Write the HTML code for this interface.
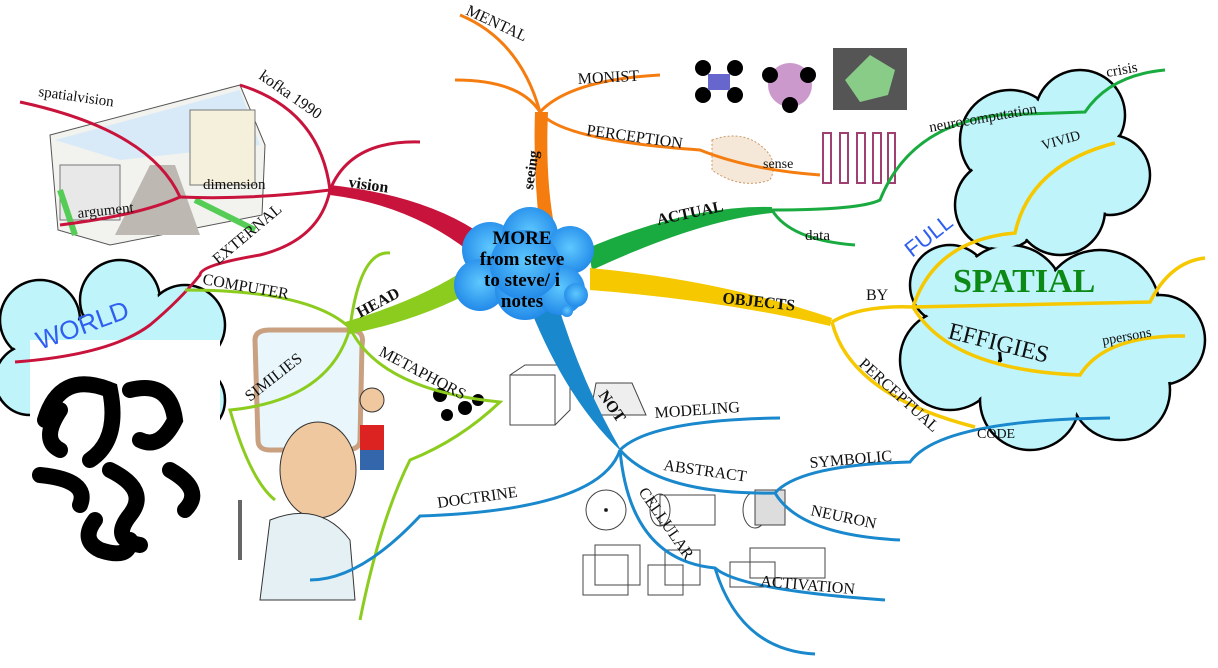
<!DOCTYPE html>
<html><head><meta charset="utf-8"><style>
html,body{margin:0;padding:0;background:#fff;}
svg{display:block;}
</style></head><body>
<svg width="1218" height="668" viewBox="0 0 1218 668" xmlns="http://www.w3.org/2000/svg" font-family="Liberation Serif, serif">
<defs>
<radialGradient id="cg" cx="50%" cy="45%" r="60%"><stop offset="0" stop-color="#5ec8ff"/><stop offset="1" stop-color="#1d84e6"/></radialGradient>
</defs>
<!-- right clouds -->
<g stroke="#000" stroke-width="2.5" fill="#bff4fb">
<circle cx="1010" cy="140" r="50"/><circle cx="1080" cy="115" r="45"/><circle cx="1110" cy="175" r="40"/><circle cx="1000" cy="205" r="45"/><circle cx="1060" cy="210" r="45"/>
<circle cx="950" cy="285" r="40"/><circle cx="1010" cy="300" r="55"/><circle cx="1100" cy="310" r="60"/><circle cx="1160" cy="340" r="45"/><circle cx="950" cy="360" r="50"/><circle cx="1030" cy="400" r="50"/><circle cx="1120" cy="390" r="50"/><circle cx="1060" cy="350" r="60"/>
</g>
<g fill="#bff4fb">
<circle cx="1010" cy="140" r="48"/><circle cx="1080" cy="115" r="43"/><circle cx="1110" cy="175" r="38"/><circle cx="1000" cy="205" r="43"/><circle cx="1060" cy="210" r="43"/><circle cx="1050" cy="165" r="45"/>
<circle cx="950" cy="285" r="38"/><circle cx="1010" cy="300" r="53"/><circle cx="1100" cy="310" r="58"/><circle cx="1160" cy="340" r="43"/><circle cx="950" cy="360" r="48"/><circle cx="1030" cy="400" r="48"/><circle cx="1120" cy="390" r="48"/><circle cx="1060" cy="350" r="58"/>
</g>
<!-- left cloud -->
<g stroke="#000" stroke-width="2.5" fill="#bff4fb">
<circle cx="40" cy="320" r="40"/><circle cx="120" cy="300" r="40"/><circle cx="185" cy="325" r="40"/><circle cx="30" cy="380" r="35"/><circle cx="190" cy="400" r="35"/><circle cx="110" cy="370" r="60"/>
</g>
<g fill="#bff4fb">
<circle cx="40" cy="320" r="38"/><circle cx="120" cy="300" r="38"/><circle cx="185" cy="325" r="38"/><circle cx="30" cy="380" r="33"/><circle cx="190" cy="400" r="33"/><circle cx="110" cy="370" r="58"/>
</g>
<rect x="30" y="340" width="190" height="225" fill="#fff"/>
<!-- black swirl -->
<g fill="none" stroke="#000" stroke-width="16" stroke-linecap="round">
<path d="M45 420 Q60 370 110 390 Q120 440 90 460"/>
<path d="M130 390 Q170 380 175 420 Q160 450 140 440"/>
<path d="M40 475 Q90 480 80 505"/>
<path d="M110 470 Q150 490 130 515 Q110 540 140 545"/>
<path d="M170 470 Q205 490 185 510"/>
<path d="M95 520 Q80 540 100 550 Q130 560 130 540"/>
<path d="M60 410 Q40 440 60 450"/>
</g>
<!-- sketch box -->
<g>
<polygon points="50,135 240,85 265,145 262,215 110,245 58,230" fill="#f2f2ee" stroke="#555"/>
<polygon points="55,140 240,90 260,145 120,160" fill="#d8eaf8"/>
<rect x="190" y="110" width="65" height="75" fill="#f5f0dc" stroke="#777"/>
<rect x="60" y="165" width="60" height="55" fill="#e8e8e8" stroke="#777"/>
<polygon points="115,235 150,165 175,165 200,235" fill="#bdb8b2"/>
<path d="M60 190 L75 235 M195 200 L255 230" stroke="#5c5" stroke-width="6"/>
</g>
<!-- top images -->
<g>
<circle cx="703" cy="68" r="8"/><circle cx="735" cy="68" r="8"/><circle cx="703" cy="95" r="8"/><circle cx="735" cy="95" r="8"/>
<rect x="708" y="74" width="22" height="16" fill="#66c"/>
<circle cx="790" cy="85" r="22" fill="#c9c"/><circle cx="770" cy="75" r="8"/><circle cx="808" cy="75" r="8"/><circle cx="790" cy="105" r="8"/>
<rect x="833" y="48" width="74" height="62" fill="#555"/>
<polygon points="870,55 895,70 888,95 860,102 845,80" fill="#8c8"/>
<path d="M712 140 Q740 130 760 145 Q780 160 770 180 Q740 190 712 170 Z" fill="#f5e8d8" stroke="#c96" stroke-dasharray="2 2"/>
<g fill="#fff" stroke="#a04070" stroke-width="2"><rect x="823" y="133" width="8" height="50"/><rect x="840" y="133" width="8" height="50"/><rect x="857" y="133" width="8" height="50"/><rect x="873" y="133" width="8" height="50"/><rect x="888" y="133" width="7" height="50"/></g>
</g>
<!-- bottom images -->
<g fill="none" stroke="#444" stroke-width="1">
<rect x="510" y="375" width="45" height="50"/><path d="M510 375 L525 365 L570 365 L570 410 L555 425"/>
<polygon points="596,383 632,383 646,415 590,415" fill="#eee"/>
<circle cx="606" cy="510" r="20"/><circle cx="606" cy="510" r="1.5" fill="#000"/>
<rect x="660" y="495" width="55" height="30"/><ellipse cx="660" cy="510" rx="10" ry="16"/>
<ellipse cx="755" cy="510" rx="12" ry="18"/><rect x="755" y="490" width="30" height="35" fill="#ddd"/>
<rect x="583" y="555" width="45" height="40"/><rect x="595" y="545" width="45" height="40"/>
<rect x="648" y="565" width="35" height="30"/><rect x="665" y="550" width="35" height="35"/>
<rect x="730" y="562" width="45" height="25"/><rect x="750" y="548" width="75" height="30"/>
</g>
<!-- man -->
<g>
<path d="M255 340 Q255 330 270 330 L350 330 Q365 330 362 345 L360 440 Q360 450 345 450 L270 450 Q258 450 258 440 Z" fill="#e9f7fd" stroke="#c9a080" stroke-width="5"/>
<ellipse cx="318" cy="470" rx="38" ry="48" fill="#f0c8a0" stroke="#333"/>
<path d="M270 520 Q320 500 350 540 L355 600 L260 600 Z" fill="#e5f0f5" stroke="#333"/>
<rect x="238" y="500" width="4" height="60" fill="#666"/>
<circle cx="372" cy="400" r="12" fill="#f0c8a0" stroke="#333"/>
<rect x="360" y="425" width="24" height="25" fill="#d22"/>
<rect x="360" y="450" width="24" height="20" fill="#36a"/>
<circle cx="440" cy="395" r="7" fill="#000"/><circle cx="465" cy="408" r="7" fill="#000"/><circle cx="447" cy="415" r="6" fill="#000"/><circle cx="478" cy="400" r="6" fill="#000"/>
</g>

<!-- RED -->
<g fill="none" stroke="#c8143c" stroke-width="3">
<path d="M330 190 Q320 110 240 85"/>
<path d="M330 190 Q350 140 420 142"/>
<path d="M330 190 Q250 200 180 197 Q140 215 60 225"/>
<path d="M180 197 Q150 130 20 102"/>
<path d="M330 190 Q320 240 260 255 Q200 265 200 275 Q180 300 150 325 Q110 355 15 362"/>
</g>
<path d="M330 185 Q420 195 475 230 L470 252 Q410 205 330 195 Z" fill="#c8143c"/>
<!-- ORANGE -->
<g fill="none" stroke="#f57d10" stroke-width="3">
<path d="M540 112 Q520 40 460 15"/>
<path d="M540 112 Q520 80 455 80"/>
<path d="M540 112 Q570 80 660 75"/>
<path d="M540 112 Q560 140 700 150 Q750 170 820 175"/>
</g>
<path d="M535 112 L548 112 Q545 180 555 230 L540 232 Q533 170 535 112 Z" fill="#f57d10"/>
<!-- GREEN -->
<g fill="none" stroke="#1aab40" stroke-width="3">
<path d="M772 210 Q790 240 855 245"/>
<path d="M772 210 Q860 210 880 200 Q910 125 1000 115 L1085 112 Q1110 75 1165 70"/>
</g>
<path d="M588 248 Q690 205 772 207 L772 213 Q700 220 592 270 Z" fill="#1aab40"/>
<!-- YELLOW -->
<g fill="none" stroke="#f5c800" stroke-width="3.5">
<path d="M832 322 Q860 305 913 307 Q1000 305 1150 302 Q1170 262 1205 258"/>
<path d="M913 307 Q935 240 1015 233 Q1030 165 1115 143"/>
<path d="M913 307 Q950 370 1080 375 Q1105 335 1185 336"/>
<path d="M832 322 Q850 395 975 427"/>
</g>
<path d="M590 268 Q720 280 832 318 L830 326 Q720 300 590 290 Z" fill="#f5c800"/>
<!-- LIGHT GREEN -->
<g fill="none" stroke="#8ccc1e" stroke-width="3">
<path d="M350 328 Q310 290 185 290"/>
<path d="M350 328 Q360 250 390 253"/>
<path d="M350 328 Q330 400 230 410 Q250 480 275 500"/>
<path d="M350 328 Q380 390 500 402 Q460 440 410 460 Q380 520 360 620"/>
</g>
<path d="M345 322 Q420 300 468 268 L475 290 Q420 320 350 334 Z" fill="#8ccc1e"/>
<!-- BLUE -->
<g fill="none" stroke="#1a88cc" stroke-width="3">
<path d="M620 450 Q650 420 780 418"/>
<path d="M620 450 Q660 495 775 493 Q800 465 910 462 Q940 420 1110 418"/>
<path d="M775 493 Q800 535 900 540"/>
<path d="M620 450 Q630 560 715 568 Q740 590 885 600"/>
<path d="M715 568 Q740 650 815 654"/>
<path d="M620 450 Q600 510 420 516 Q360 580 310 580"/>
</g>
<path d="M526 298 Q565 400 622 452 Q580 380 556 298 Z" fill="#1a88cc"/>

<!-- center cloud -->
<g fill="url(#cg)">
<circle cx="490" cy="250" r="28"/><circle cx="530" cy="235" r="28"/><circle cx="570" cy="250" r="24"/><circle cx="480" cy="285" r="26"/><circle cx="525" cy="290" r="30"/><circle cx="560" cy="290" r="25"/><circle cx="525" cy="265" r="35"/>
<circle cx="576" cy="295" r="12"/><circle cx="567" cy="311" r="6"/>
</g>
<g font-size="19" font-weight="bold" text-anchor="middle">
<text x="522" y="244">MORE</text>
<text x="522" y="265">from steve</text>
<text x="522" y="286">to steve/ i</text>
<text x="522" y="307">notes</text>
</g>

<!-- labels -->
<g font-size="16" fill="#111">
<text x="348" y="187" font-weight="bold" transform="rotate(8 348 187)">vision</text>
<text x="258" y="78" transform="rotate(35 258 78)">kofka 1990</text>
<text x="38" y="96" font-size="15" transform="rotate(8 38 96)">spatialvision</text>
<text x="203" y="189" font-size="15">dimension</text>
<text x="78" y="218" font-size="15" transform="rotate(-6 78 218)">argument</text>
<text x="218" y="265" transform="rotate(-40 218 265)">EXTERNAL</text>
<text x="202" y="284" transform="rotate(10 202 284)">COMPUTER</text>
<text x="40" y="350" style="font-family:'Liberation Sans',sans-serif" font-size="26" fill="#2f5ff0" transform="rotate(-20 40 350)">WORLD</text>
<text x="360" y="318" font-weight="bold" transform="rotate(-28 360 318)">HEAD</text>
<text x="250" y="402" transform="rotate(-38 250 402)">SIMILIES</text>
<text x="378" y="355" transform="rotate(28 378 355)">METAPHORS</text>
<text x="438" y="508" transform="rotate(-8 438 508)">DOCTRINE</text>
<text x="465" y="14" transform="rotate(25 465 14)">MENTAL</text>
<text x="578" y="84" transform="rotate(-3 578 84)">MONIST</text>
<text x="586" y="135" transform="rotate(8 586 135)">PERCEPTION</text>
<text x="533" y="190" font-weight="bold" font-size="15" transform="rotate(-82 533 190)">seeing</text>
<text x="763" y="168" font-size="14">sense</text>
<text x="658" y="225" font-weight="bold" transform="rotate(-12 658 225)">ACTUAL</text>
<text x="805" y="240" font-size="15">data</text>
<text x="930" y="132" font-size="15" transform="rotate(-10 930 132)">neurocomputation</text>
<text x="1107" y="77" font-size="15" transform="rotate(-10 1107 77)">crisis</text>
<text x="1043" y="150" font-size="14" transform="rotate(-16 1043 150)">VIVID</text>
<text x="912" y="258" style="font-family:'Liberation Sans',sans-serif" font-size="22" fill="#2f5ff0" transform="rotate(-38 912 258)">FULL</text>
<text x="953" y="292" font-size="34" font-weight="bold" fill="#0d8a16">SPATIAL</text>
<text x="947" y="338" font-size="24" transform="rotate(14 947 338)">EFFIGIES</text>
<text x="1103" y="345" font-size="14" transform="rotate(-10 1103 345)">ppersons</text>
<text x="866" y="300">BY</text>
<text x="722" y="303" font-weight="bold" transform="rotate(6 722 303)">OBJECTS</text>
<text x="858" y="365" transform="rotate(42 858 365)">PERCEPTUAL</text>
<text x="977" y="438" font-size="14">CODE</text>
<text x="598" y="395" font-weight="bold" transform="rotate(55 598 395)">NOT</text>
<text x="655" y="418" transform="rotate(-4 655 418)">MODELING</text>
<text x="663" y="470" transform="rotate(8 663 470)">ABSTRACT</text>
<text x="810" y="468" transform="rotate(-5 810 468)">SYMBOLIC</text>
<text x="810" y="515" transform="rotate(12 810 515)">NEURON</text>
<text x="638" y="492" transform="rotate(55 638 492)">CELLULAR</text>
<text x="760" y="586" transform="rotate(5 760 586)">ACTIVATION</text>
</g>
</svg>
</body></html>
